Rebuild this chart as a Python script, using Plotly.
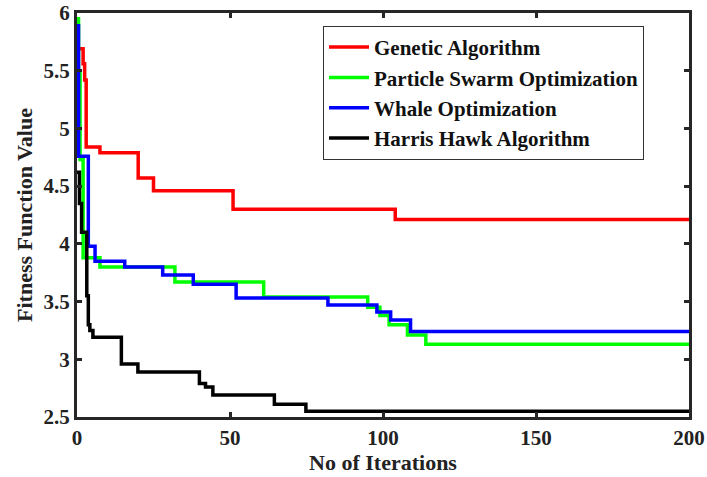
import plotly.graph_objects as go

# Step-change points (iteration, fitness)
ga_x = [0, 2, 2.5, 3, 7.5, 20, 25, 51, 104, 200]
ga_y = [5.69, 5.56, 5.42, 4.84, 4.79, 4.57, 4.46, 4.30, 4.21, 4.21]

pso_x = [0, 0.5, 1, 2, 7.5, 32, 61, 95, 99, 102, 108, 114, 200]
pso_y = [5.95, 5.5, 4.73, 3.88, 3.80, 3.67, 3.54, 3.45, 3.38, 3.30, 3.21, 3.13, 3.13]

woa_x = [0, 0.5, 3.7, 5.9, 15.6, 28, 38, 52, 82, 98, 102.5, 109, 200]
woa_y = [5.89, 4.76, 3.98, 3.85, 3.80, 3.73, 3.65, 3.53, 3.47, 3.41, 3.34, 3.24, 3.24]

hha_x = [0, 0.8, 1.5, 3.2, 3.7, 4.2, 5.2, 14.5, 19.9, 40, 42, 44.4, 64.5, 74.8, 200]
hha_y = [4.62, 4.35, 4.10, 3.55, 3.30, 3.25, 3.19, 2.96, 2.89, 2.79, 2.76, 2.69, 2.61, 2.55, 2.55]

names = ["Genetic Algorithm", "Particle Swarm Optimization",
         "Whale Optimization", "Harris Hawk Algorithm"]
colors = ["#FF0000", "#00FF00", "#0000FF", "#000000"]

x_ticks = [0, 50, 100, 150, 200]
x_tick_text = ["0", "50", "100", "150", "200"]
y_ticks = [2.5, 3, 3.5, 4, 4.5, 5, 5.5, 6]
y_tick_text = ["2.5", "3", "3.5", "4", "4.5", "5", "5.5", "6"]

FONT = "Liberation Serif, Times New Roman, serif"
AX = "#262626"

fig = go.Figure()
for xs, ys, nm, c in zip([ga_x, pso_x, woa_x, hha_x], [ga_y, pso_y, woa_y, hha_y], names, colors):
    fig.add_trace(go.Scatter(x=xs, y=ys, mode="lines", name="<b>" + nm + "</b>",
                             line=dict(color=c, width=3.5, shape="hv")))

axis_common = dict(
    showline=True, linewidth=3, linecolor=AX, mirror="ticks",
    ticks="inside", ticklen=5, tickwidth=3, tickcolor=AX,
    showgrid=False, zeroline=False, automargin=False,
    tickfont=dict(family=FONT, size=21, color="#222"),
)

fig.update_xaxes(range=[0, 200], tickvals=x_ticks,
                 ticktext=["<b>" + t + "</b>" for t in x_tick_text],
                 title=dict(text="<b>No of Iterations</b>", standoff=2,
                            font=dict(family=FONT, size=22, color="#222")),
                 **axis_common)
fig.update_yaxes(range=[2.5, 6], tickvals=y_ticks,
                 ticktext=["<b>" + t + "</b>" for t in y_tick_text],
                 title=dict(text="<b>Fitness Function Value</b>", standoff=5,
                            font=dict(family=FONT, size=22, color="#222")),
                 **axis_common)

fig.update_layout(
    width=707, height=477,
    margin=dict(l=77, r=18, t=13, b=60),
    paper_bgcolor="white", plot_bgcolor="white",
    showlegend=True,
    legend=dict(x=0.402, y=0.968, xanchor="left", yanchor="top",
                bgcolor="white", bordercolor="#333", borderwidth=1,
                font=dict(family=FONT, size=21, color="#111"),
                itemwidth=40, tracegroupgap=0,
                entrywidthmode="pixels", entrywidth=300),
)

fig.write_html("out.html")
